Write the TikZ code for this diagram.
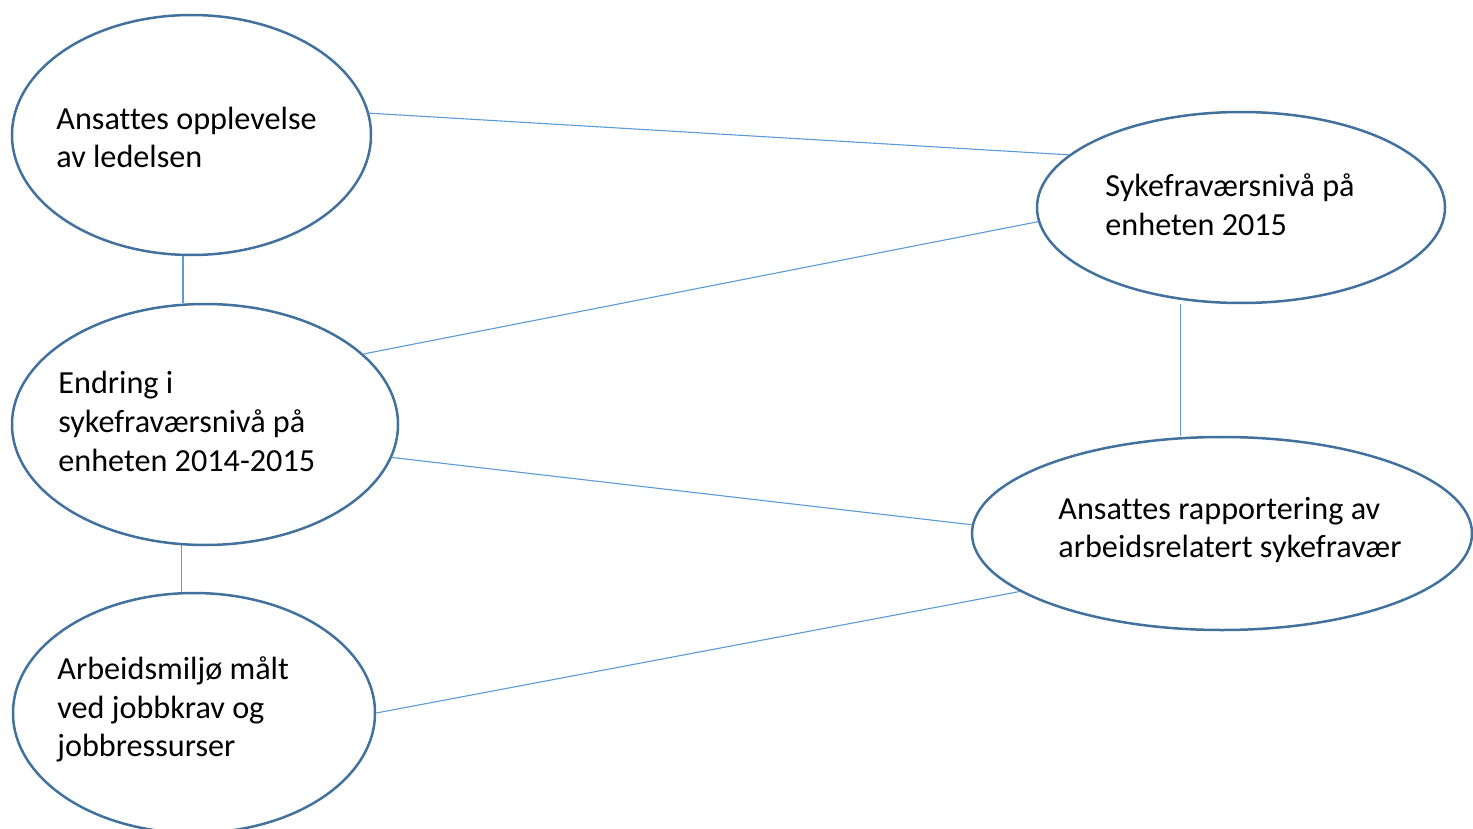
\documentclass[tikz,border=0pt]{standalone}
\usepackage{fontspec}
\setmainfont{Carlito}[Ligatures=NoCommon]
\usepackage{xcolor}
\usepackage{tikz}
\usetikzlibrary{shapes.geometric}
\definecolor{rimblue}{HTML}{41719C}
\definecolor{linkblue}{HTML}{5B9BD5}
\tikzset{
  oval/.style={ellipse, draw=rimblue, line width=1.25pt, inner sep=0pt},
  txt/.style={anchor=west, align=left, inner sep=0pt, font=\fontsize{16.1}{19.3}\selectfont},
  link/.style={draw=linkblue, line width=0.55pt}
}

\begin{document}
\begin{tikzpicture}[x=0.5pt,y=-0.5pt]
\useasboundingbox (0,0) rectangle (1473,829);
\node[oval, minimum width=179.5pt, minimum height=120pt] (e1) at (191.5,135) {};
\node[oval, minimum width=204pt, minimum height=95.5pt] (e2) at (1241,207.5) {};
\node[oval, minimum width=193pt, minimum height=120.5pt] (e3) at (205,424.5) {};
\node[oval, minimum width=250pt, minimum height=96.5pt] (e4) at (1222,533.5) {};
\node[oval, minimum width=181pt, minimum height=120pt] (e5) at (194,713) {};

\node[txt] (t1) at (56,137.5) {Ansattes opplevelse\\av ledelsen};
\node[txt] (t2) at (1105,205) {Sykefraværsnivå på\\enheten 2015};
\node[txt] (t3) at (58,421.5) {Endring i\\sykefraværsnivå på\\enheten 2014-2015};
\node[txt] (t4) at (1058,530) {Ansattes rapportering av\\arbeidsrelatert sykefravær};
\node[txt] (t5) at (57,709.5) {Arbeidsmiljø målt\\ved jobbkrav og\\jobbressurser};

\draw[link] (e1.7) -- (e2.163);
\draw[link] (e3.24) -- (e2.184);
\draw[link] (e1.266) -- (e1.266 |- e3.north);
\draw[link] (e3.259) -- (e3.259 |- e5.north);
\draw[link] ([yshift=-2pt]e2.237) -- (e2.237 |- e4.north);
\draw[link] (e3.-10) -- (e4.178);
\draw[link] (e5.east) -- (e4.196);
\end{tikzpicture}
\end{document}
